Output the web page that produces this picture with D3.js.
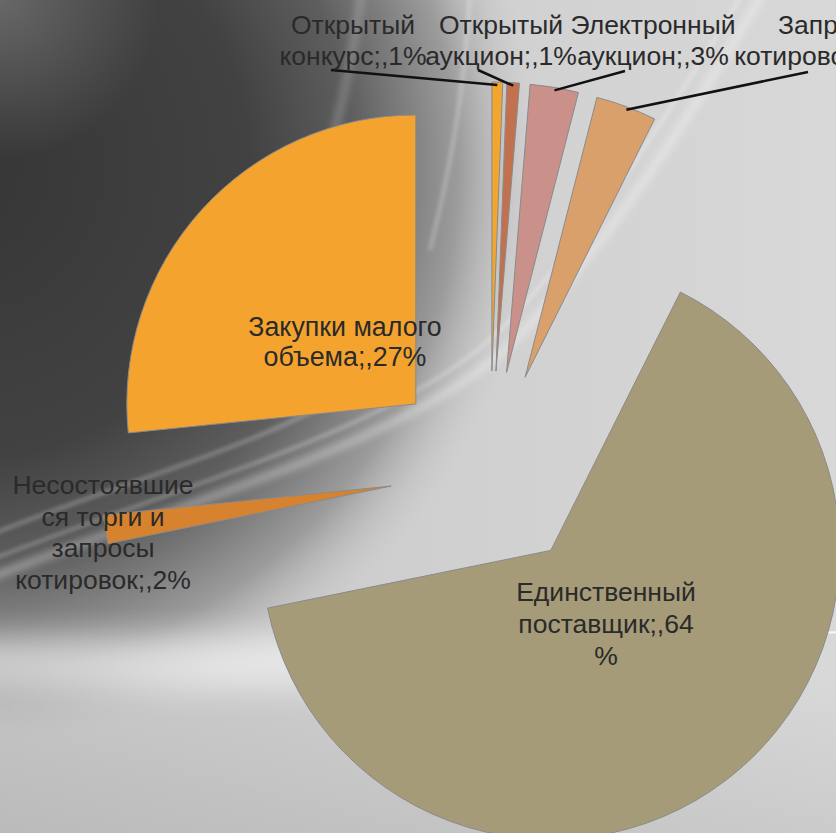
<!DOCTYPE html>
<html><head><meta charset="utf-8">
<script src="https://cdn.jsdelivr.net/npm/d3@7/dist/d3.min.js"></script>
<style>html,body{margin:0;padding:0;overflow:hidden;background:#cfcfcf}svg{display:block}</style>
</head><body>
<svg id="chart" width="836" height="833"></svg>
<script>
// ---- data ----
const categories = ["Открытый конкурс", "Открытый аукцион", "Электронный аукцион", "Запрос котировок",
  "Единственный поставщик", "Несостоявшиеся торги и запросы котировок", "Закупки малого объема"];
const values = [0.6, 0.7, 2.7, 3.4, 64.4, 1.6, 26.6];
const labelLines = [["Открытый", "конкурс;,1%"], ["Открытый", "аукцион;,1%"], ["Электронный", "аукцион;,3%"],
  ["Запрос", "котировок;,3%"], ["Единственный", "поставщик;,64", "%"], ["Несостоявшие", "ся торги и", "запросы", "котировок;,2%"],
  ["Закупки малого", "объема;,27%"]];

// ---- style / layout ----
const colors = ["#F2A630", "#C2714F", "#C9918A", "#D9A06C", "#A69B78", "#D7822E", "#F4A42E"];
const W = 836, H = 833, cx = 490, cy = 471, R = 289, explode = 100;
const labelPos = [[353, 34, 26.5, 31], [501, 34, 26.5, 31], [653, 34, 26.5, 31], [822, 34, 26.5, 31],
  [606, 601, 26.5, 32], [103, 494, 26.5, 31.5], [345, 336, 26.8, 30]];
const leaderStart = [[331, 70], [478, 70], [625, 71], [808, 72], null, null, null];

const svg = d3.select("#chart");
const defs = svg.append("defs");

// background gradients
const base = defs.append("linearGradient").attr("id", "base").attr("x1", 0).attr("y1", 0).attr("x2", 1).attr("y2", 0);
base.append("stop").attr("offset", 0).attr("stop-color", "#c6c6c6");
base.append("stop").attr("offset", 1).attr("stop-color", "#d8d8d8");
const dark = defs.append("radialGradient").attr("id", "dark").attr("gradientUnits", "userSpaceOnUse")
  .attr("cx", -40).attr("cy", 170).attr("r", 580);
[[0, "#363636", 1], [0.5, "#424242", 1], [0.68, "#5e5e5e", 1], [0.86, "#9c9c9c", 1], [1, "#c8c8c8", 0]].forEach(s =>
  dark.append("stop").attr("offset", s[0]).attr("stop-color", s[1]).attr("stop-opacity", s[2]));
const corner = defs.append("radialGradient").attr("id", "corner").attr("gradientUnits", "userSpaceOnUse")
  .attr("cx", 0).attr("cy", 0).attr("r", 160);
corner.append("stop").attr("offset", 0).attr("stop-color", "#fff").attr("stop-opacity", 0.22);
corner.append("stop").attr("offset", 1).attr("stop-color", "#fff").attr("stop-opacity", 0);
const bottom = defs.append("linearGradient").attr("id", "bottom").attr("x1", 0).attr("y1", 0).attr("x2", 0).attr("y2", 1);
bottom.append("stop").attr("offset", 0).attr("stop-color", "#000").attr("stop-opacity", 0);
bottom.append("stop").attr("offset", 1).attr("stop-color", "#000").attr("stop-opacity", 0.06);
const blur = (id, sd) => defs.append("filter").attr("id", id).attr("x", "-50%").attr("y", "-50%")
  .attr("width", "200%").attr("height", "200%").append("feGaussianBlur").attr("stdDeviation", sd);
blur("b2", 2); blur("b4", 4); blur("b15", 15);

const bg = svg.append("g");
bg.append("rect").attr("width", W).attr("height", H).attr("fill", "url(#base)");
bg.append("rect").attr("width", W).attr("height", H).attr("fill", "url(#dark)");
bg.append("rect").attr("width", W).attr("height", H).attr("fill", "url(#corner)");
bg.append("rect").attr("x", 0).attr("y", 680).attr("width", W).attr("height", 153).attr("fill", "url(#bottom)");
// bottom glow
bg.append("ellipse").attr("cx", 200).attr("cy", 662).attr("rx", 520).attr("ry", 26)
  .attr("fill", "#ffffff").attr("opacity", 0.5).attr("filter", "url(#b15)");
// light streaks
const streaks = [
  ["M-10,578 C200,495 420,440 520,335 S700,100 765,-10", 5, 0.55, "b4"],
  ["M-10,560 C190,482 410,425 505,325 S680,95 745,-10", 2, 0.5, "b2"],
  ["M-10,535 C150,470 330,430 405,345", 3, 0.35, "b2"],
  ["M362,-10 C345,110 320,200 280,280", 4, 0.4, "b4"],
  ["M470,-10 C465,90 450,170 430,250", 3, 0.35, "b2"],
  ["M815,633 L840,632", 2, 0.9, null]
];
streaks.forEach(s => bg.append("path").attr("d", s[0]).attr("fill", "none").attr("stroke", "#fff")
  .attr("stroke-width", s[1]).attr("opacity", s[2]).attr("filter", s[3] ? `url(#${s[3]})` : null));

// ---- pie ----
const pie = d3.pie().sort(null).value(d => d).startAngle(0).endAngle(2 * Math.PI);
const arcs = pie(values);
const arc = d3.arc().innerRadius(0).outerRadius(R);
const dir = a => [Math.sin(a), -Math.cos(a)];

const g = svg.append("g").attr("transform", `translate(${cx},${cy})`);
arcs.forEach(a => {
  const m = (a.startAngle + a.endAngle) / 2, d = dir(m);
  a.off = [d[0] * explode, d[1] * explode];
  a.outer = [cx + a.off[0] + d[0] * R, cy + a.off[1] + d[1] * R];
});
g.selectAll("path.slice").data(arcs).join("path").attr("class", "slice")
  .attr("transform", d => `translate(${d.off[0]},${d.off[1]})`)
  .attr("d", arc).attr("fill", (d, i) => colors[i])
  .attr("stroke", "#8a8a8a").attr("stroke-width", 1);

// leader lines
arcs.forEach((a, i) => {
  if (!leaderStart[i]) return;
  svg.append("line").attr("x1", leaderStart[i][0]).attr("y1", leaderStart[i][1])
    .attr("x2", a.outer[0]).attr("y2", a.outer[1] + 3).attr("stroke", "#111").attr("stroke-width", 2.5);
});

// labels
labelLines.forEach((lines, i) => {
  const p = labelPos[i];
  const t = svg.append("text").attr("text-anchor", "middle").attr("font-family", "'Liberation Sans', Arial, sans-serif")
    .attr("font-size", p[2]).attr("fill", "#2a2a2a");
  lines.forEach((l, k) => t.append("tspan").attr("x", p[0]).attr("y", p[1] + k * p[3]).text(l));
});
</script>
</body></html>
